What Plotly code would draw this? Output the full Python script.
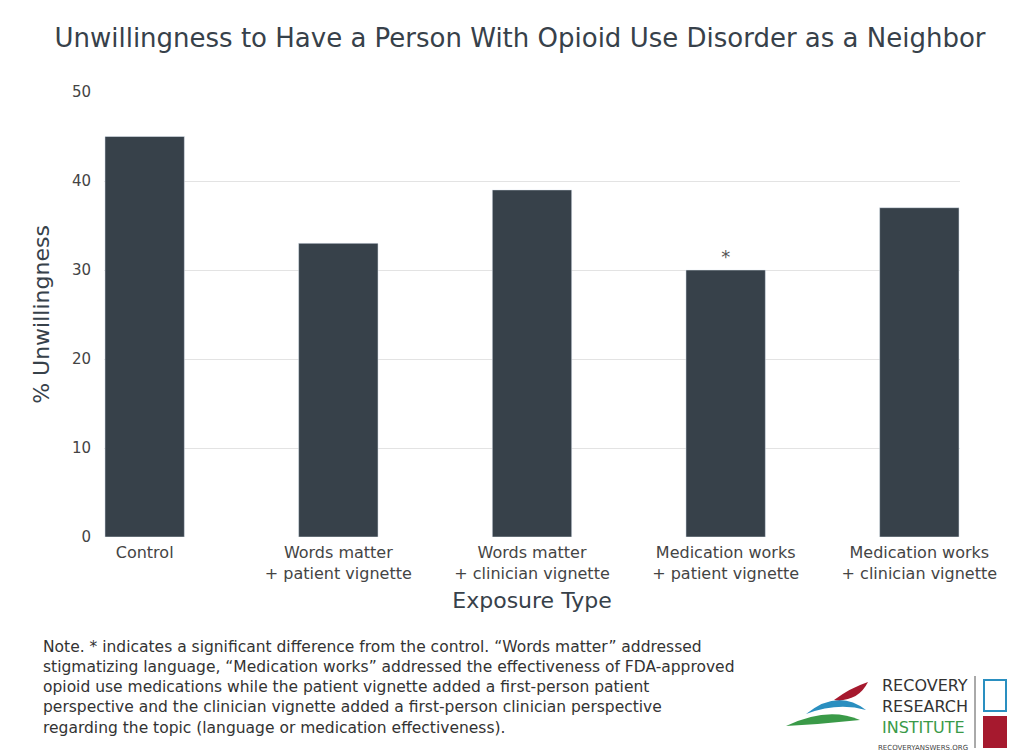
import plotly.graph_objects as go

categories = ["Control", "Words matter<br>+ patient vignette", "Words matter<br>+ clinician vignette",
              "Medication works<br>+ patient vignette", "Medication works<br>+ clinician vignette"]
values = [45, 33, 39, 30, 37]
marks = ["", "", "", "*", ""]
xs = list(range(len(categories)))

L, R, T, B = 96, 72, 84, 221
PW, PH = 1024 - L - R, 750 - T - B
def px(x): return (x - L) / PW
def py(y): return (750 - B - y) / PH

fig = go.Figure()
fig.add_bar(x=xs, y=values, width=0.41, marker_color="#37414a", text=marks,
            textposition="outside", textfont=dict(size=18, color="#555"), cliponaxis=False)

font = "'DejaVu Sans', sans-serif"
fig.update_layout(
    width=1024, height=750, plot_bgcolor="white", paper_bgcolor="white",
    margin=dict(l=L, r=R, t=T, b=B), showlegend=False,
    font=dict(family=font, color="#444"),
    title=dict(text="Unwillingness to Have a Person With Opioid Use Disorder as a Neighbor",
               x=0.5, xanchor="center", y=0.96, yanchor="middle", font=dict(size=26, color="#37414a")),
    xaxis=dict(range=[-0.21, 4.21], tickvals=xs, ticktext=categories, showline=False,
               tickfont=dict(size=16, color="#444"), ticks="outside", ticklen=1, tickcolor="white",
               title=dict(text="Exposure Type", font=dict(size=22, color="#37414a"), standoff=10)),
    yaxis=dict(range=[0, 50], dtick=10, gridcolor="#e3e3e3", zeroline=False,
               tickfont=dict(size=15, color="#444"), ticklabelstandoff=12,
               title=dict(text="% Unwillingness", font=dict(size=22, color="#37414a"), standoff=16)),
)
note = ("Note. * indicates a significant difference from the control. “Words matter” addressed<br>"
        "stigmatizing language, “Medication works” addressed the effectiveness of FDA-approved<br>"
        "opioid use medications while the patient vignette added a first-person patient<br>"
        "perspective and the clinician vignette added a first-person clinician perspective<br>"
        "regarding the topic (language or medication effectiveness).")
fig.add_annotation(text=note, xref="paper", yref="paper", x=px(33), y=py(628), xanchor="left",
                   yanchor="top", showarrow=False, align="left",
                   font=dict(size=15.5, color="#333"))
fig.add_annotation(text="RECOVERY<br>RESEARCH<br><span style='color:#3a9a48'>INSTITUTE</span>",
                   xref="paper", yref="paper", x=px(962), y=py(666), xanchor="right", yanchor="top",
                   showarrow=False, align="left", font=dict(size=16, color="#333"))
fig.add_annotation(text="RECOVERYANSWERS.ORG", xref="paper", yref="paper", x=px(962), y=py(734),
                   xanchor="right", yanchor="top", showarrow=False, font=dict(size=7, color="#444"))
# logo swooshes
def path(pts):
    (a, b), (c, d), (e, f), (g, h) = pts
    return (f"M {px(a)},{py(b)} Q {px(c)},{py(d)} {px(e)},{py(f)} "
            f"Q {px(g)},{py(h)} {px(a)},{py(b)} Z")
fig.add_shape(type="path", xref="paper", yref="paper",
              path=path([(798, 706), (830, 680), (858, 702), (830, 694)]),
              fillcolor="#2a8fc0", line_width=0)
fig.add_shape(type="path", xref="paper", yref="paper",
              path=path([(778, 718), (820, 698), (852, 712), (815, 716)]),
              fillcolor="#3a9a48", line_width=0)
fig.add_shape(type="path", xref="paper", yref="paper",
              path=path([(826, 692), (842, 680), (860, 674), (850, 694)]),
              fillcolor="#a6192e", line_width=0)
fig.add_shape(type="line", xref="paper", yref="paper", x0=px(967), x1=px(967), y0=py(668), y1=py(740),
              line=dict(color="#555", width=1))
fig.add_shape(type="rect", xref="paper", yref="paper", x0=px(975), x1=px(999), y0=py(708), y1=py(740),
              fillcolor="#a6192e", line_width=0)
fig.add_shape(type="rect", xref="paper", yref="paper", x0=px(976), x1=px(998), y0=py(672), y1=py(703),
              fillcolor="white", line=dict(color="#2a8fc0", width=2))
fig.write_html("out.html")
